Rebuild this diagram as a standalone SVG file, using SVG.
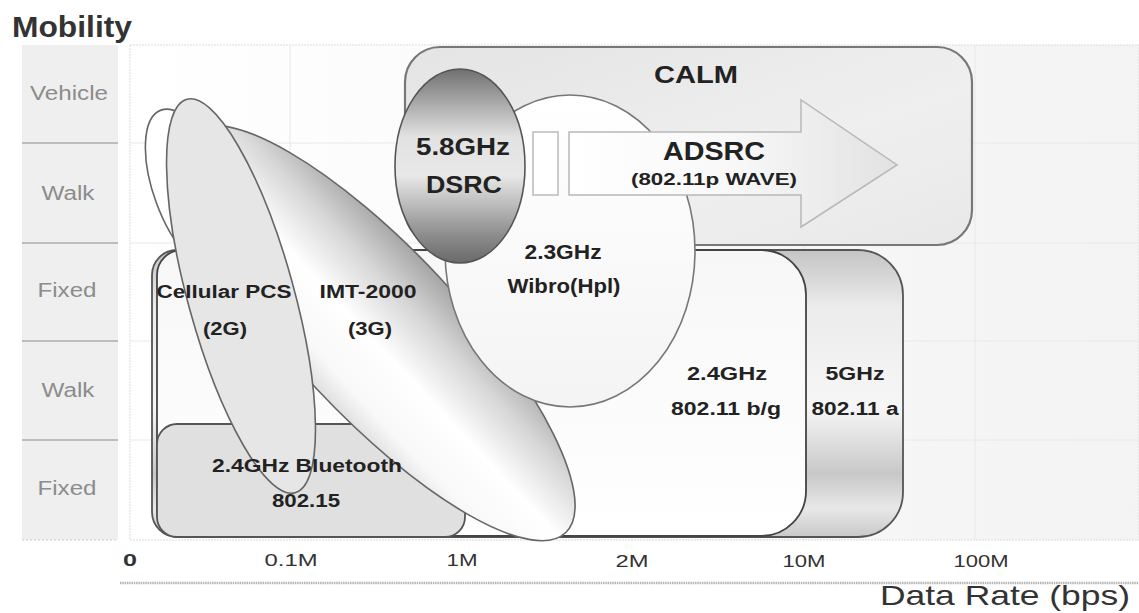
<svg xmlns="http://www.w3.org/2000/svg" width="1139" height="613" viewBox="0 0 1139 613">
<style>
.lbl{font-family:"Liberation Sans",Arial,sans-serif;font-weight:bold;fill:#222;text-anchor:middle}
.row{font-family:"Liberation Sans",Arial,sans-serif;font-size:20px;fill:#8c8c8c;text-anchor:middle}
.tick{font-family:"Liberation Sans",Arial,sans-serif;font-size:17px;fill:#333;text-anchor:middle}
.grid{stroke:#e8e8e8;stroke-width:1}
.edge{stroke:#666;stroke-width:1.6}
</style>
<defs>
<linearGradient id="gBg" x1="0" y1="0" x2="1" y2="0"><stop offset="0" stop-color="#ffffff"/><stop offset="1" stop-color="#f3f3f3"/></linearGradient>
<linearGradient id="gCalm" x1="0" y1="0" x2="1" y2="1"><stop offset="0" stop-color="#e4e4e4"/><stop offset="0.6" stop-color="#efefef"/><stop offset="1" stop-color="#e8e8e8"/></linearGradient>
<linearGradient id="g5" x1="0" y1="0" x2="0" y2="1"><stop offset="0" stop-color="#c4c4c4"/><stop offset="0.2" stop-color="#ececec"/><stop offset="0.55" stop-color="#f6f6f6"/><stop offset="0.78" stop-color="#c8c8c8"/><stop offset="0.9" stop-color="#e8e8e8"/><stop offset="1" stop-color="#c8c8c8"/></linearGradient>
<linearGradient id="g24" x1="0" y1="0" x2="0" y2="1"><stop offset="0" stop-color="#f7f7f7"/><stop offset="1" stop-color="#ffffff"/></linearGradient>
<linearGradient id="gDsrc" x1="0" y1="0" x2="0" y2="1"><stop offset="0" stop-color="#707070"/><stop offset="0.35" stop-color="#e2e2e2"/><stop offset="0.55" stop-color="#e8e8e8"/><stop offset="0.85" stop-color="#8e8e8e"/><stop offset="1" stop-color="#6a6a6a"/></linearGradient>
<linearGradient id="gImt" x1="0" y1="0" x2="0" y2="1"><stop offset="0" stop-color="#a6a6a6"/><stop offset="0.25" stop-color="#d6d6d6"/><stop offset="0.55" stop-color="#ffffff"/><stop offset="0.85" stop-color="#f8f8f8"/><stop offset="1" stop-color="#e0e0e0"/></linearGradient>
<linearGradient id="gWib" x1="0" y1="0" x2="0" y2="1"><stop offset="0" stop-color="#ffffff"/><stop offset="1" stop-color="#f4f4f4"/></linearGradient>
<linearGradient id="gArr" x1="0" y1="0" x2="1" y2="0"><stop offset="0" stop-color="#ffffff"/><stop offset="0.5" stop-color="#f8f8f8"/><stop offset="1" stop-color="#e2e2e2"/></linearGradient>
</defs>

<g id="axes">
<text x="12" y="37" font-family="Liberation Sans,Arial,sans-serif" font-weight="bold" font-size="30" fill="#333" textLength="120" lengthAdjust="spacingAndGlyphs">Mobility</text>
<rect x="22" y="45" width="96" height="495" fill="#efefef"/>
<g stroke="#bdbdbd" stroke-width="2">
<line x1="22" y1="143" x2="118" y2="143"/><line x1="22" y1="243" x2="118" y2="243"/><line x1="22" y1="341" x2="118" y2="341"/><line x1="22" y1="440" x2="118" y2="440"/>
</g>
<line x1="22" y1="540" x2="118" y2="540" stroke="#ccc" stroke-dasharray="2,2"/>
<text class="row" x="69" y="100" textLength="78" lengthAdjust="spacingAndGlyphs">Vehicle</text>
<text class="row" x="68" y="200" textLength="53" lengthAdjust="spacingAndGlyphs">Walk</text>
<text class="row" x="67" y="297" textLength="59" lengthAdjust="spacingAndGlyphs">Fixed</text>
<text class="row" x="68" y="397" textLength="53" lengthAdjust="spacingAndGlyphs">Walk</text>
<text class="row" x="67" y="495" textLength="59" lengthAdjust="spacingAndGlyphs">Fixed</text>
<rect x="130" y="45" width="1009" height="495" fill="url(#gBg)" stroke="#dcdcdc" stroke-dasharray="2,1"/>
<g class="grid">
<line x1="290" y1="45" x2="290" y2="540"/><line x1="462" y1="45" x2="462" y2="540"/><line x1="632" y1="45" x2="632" y2="540"/><line x1="804" y1="45" x2="804" y2="540"/><line x1="975" y1="45" x2="975" y2="540"/>
<line x1="130" y1="143" x2="1139" y2="143"/><line x1="130" y1="243" x2="1139" y2="243"/><line x1="130" y1="341" x2="1139" y2="341"/><line x1="130" y1="440" x2="1139" y2="440"/>
</g>
<line x1="120" y1="583" x2="1139" y2="583" stroke="#b4b4b4" stroke-width="2.5" stroke-dasharray="1.5,0.8"/>
<text class="tick" x="130" y="566" font-weight="bold" textLength="14" lengthAdjust="spacingAndGlyphs">0</text>
<text class="tick" x="291" y="566" textLength="53" lengthAdjust="spacingAndGlyphs">0.1M</text>
<text class="tick" x="462" y="566" textLength="31" lengthAdjust="spacingAndGlyphs">1M</text>
<text class="tick" x="632" y="567" textLength="33" lengthAdjust="spacingAndGlyphs">2M</text>
<text class="tick" x="804" y="567" textLength="43" lengthAdjust="spacingAndGlyphs">10M</text>
<text class="tick" x="981" y="567" textLength="55" lengthAdjust="spacingAndGlyphs">100M</text>
<text x="880" y="605" font-family="Liberation Sans,Arial,sans-serif" font-size="28" fill="#333" textLength="250" lengthAdjust="spacingAndGlyphs">Data Rate (bps)</text>
</g>

<g id="wlan5">
<path d="M177,250 H858 A45,45 0 0 1 903,295 V492 A45,45 0 0 1 858,537 H177 A25,25 0 0 1 152,512 V275 A25,25 0 0 1 177,250 Z" fill="url(#g5)" stroke="#555" stroke-width="1.8"/>
</g>
<g id="wlan24">
<path d="M182,250 H761 A45,45 0 0 1 806,295 V491 A45,45 0 0 1 761,536 H182 A25,25 0 0 1 157,511 V275 A25,25 0 0 1 182,250 Z" fill="url(#g24)" stroke="#444" stroke-width="1.8"/>
</g>
<g id="bluetooth">
<rect x="157" y="424" width="308" height="113" rx="20" fill="#e0e0e0" stroke="#555" stroke-width="1.8"/>
</g>
<g id="calm">
<rect x="405" y="47" width="567" height="198" rx="35" fill="url(#gCalm)" stroke="#777" stroke-width="2.2"/>
</g>
<g id="cellular-back">
<ellipse cx="0" cy="0" rx="85" ry="36" transform="translate(190,190) rotate(70)" fill="#ffffff" class="edge"/>
</g>
<g id="imt2000">
<ellipse cx="0" cy="0" rx="274" ry="83" transform="translate(378,333) rotate(46.8)" fill="url(#gImt)" class="edge"/>
</g>
<g id="cellular">
<ellipse cx="0" cy="0" rx="204" ry="53" transform="translate(241,296) rotate(74.6)" fill="#e6e6e6" class="edge"/>
</g>
<g id="wibro">
<ellipse cx="570" cy="251" rx="125" ry="156" fill="url(#gWib)" stroke="#777" stroke-width="1.6"/>
</g>
<g id="dsrc">
<ellipse cx="460" cy="166" rx="65" ry="97" fill="url(#gDsrc)" stroke="#555" stroke-width="1.6"/>
</g>
<g id="adsrc">
<rect x="533" y="132" width="25" height="63" fill="#ffffff" stroke="#bbb" stroke-width="1.5"/>
<path d="M569,132 H801 V100 L897,165 L801,227 V195 H569 Z" fill="url(#gArr)" stroke="#b8b8b8" stroke-width="1.5"/>
</g>

<g id="labels">
<text class="lbl" x="696" y="83" font-size="23" textLength="84" lengthAdjust="spacingAndGlyphs">CALM</text>
<text class="lbl" x="463" y="155" font-size="24" textLength="94" lengthAdjust="spacingAndGlyphs">5.8GHz</text>
<text class="lbl" x="464" y="193" font-size="24" textLength="76" lengthAdjust="spacingAndGlyphs">DSRC</text>
<text class="lbl" x="714" y="160" font-size="25" textLength="102" lengthAdjust="spacingAndGlyphs">ADSRC</text>
<text class="lbl" x="714" y="185" font-size="17" textLength="166" lengthAdjust="spacingAndGlyphs">(802.11p WAVE)</text>
<text class="lbl" x="563" y="259" font-size="20" textLength="77" lengthAdjust="spacingAndGlyphs">2.3GHz</text>
<text class="lbl" x="564" y="293" font-size="20" textLength="113" lengthAdjust="spacingAndGlyphs">Wibro(Hpl)</text>
<text class="lbl" x="224" y="298" font-size="18" textLength="135" lengthAdjust="spacingAndGlyphs">Cellular PCS</text>
<text class="lbl" x="368" y="298" font-size="18" textLength="97" lengthAdjust="spacingAndGlyphs">IMT-2000</text>
<text class="lbl" x="225" y="335" font-size="18" textLength="44" lengthAdjust="spacingAndGlyphs">(2G)</text>
<text class="lbl" x="370" y="335" font-size="18" textLength="44" lengthAdjust="spacingAndGlyphs">(3G)</text>
<text class="lbl" x="307" y="472" font-size="18" textLength="190" lengthAdjust="spacingAndGlyphs">2.4GHz Bluetooth</text>
<text class="lbl" x="306" y="507" font-size="18" textLength="68" lengthAdjust="spacingAndGlyphs">802.15</text>
<text class="lbl" x="727" y="380" font-size="18" textLength="80" lengthAdjust="spacingAndGlyphs">2.4GHz</text>
<text class="lbl" x="726" y="415" font-size="18" textLength="110" lengthAdjust="spacingAndGlyphs">802.11 b/g</text>
<text class="lbl" x="855" y="380" font-size="18" textLength="59" lengthAdjust="spacingAndGlyphs">5GHz</text>
<text class="lbl" x="855" y="415" font-size="18" textLength="87" lengthAdjust="spacingAndGlyphs">802.11 a</text>
</g>
<g id="connectors"/>
</svg>
